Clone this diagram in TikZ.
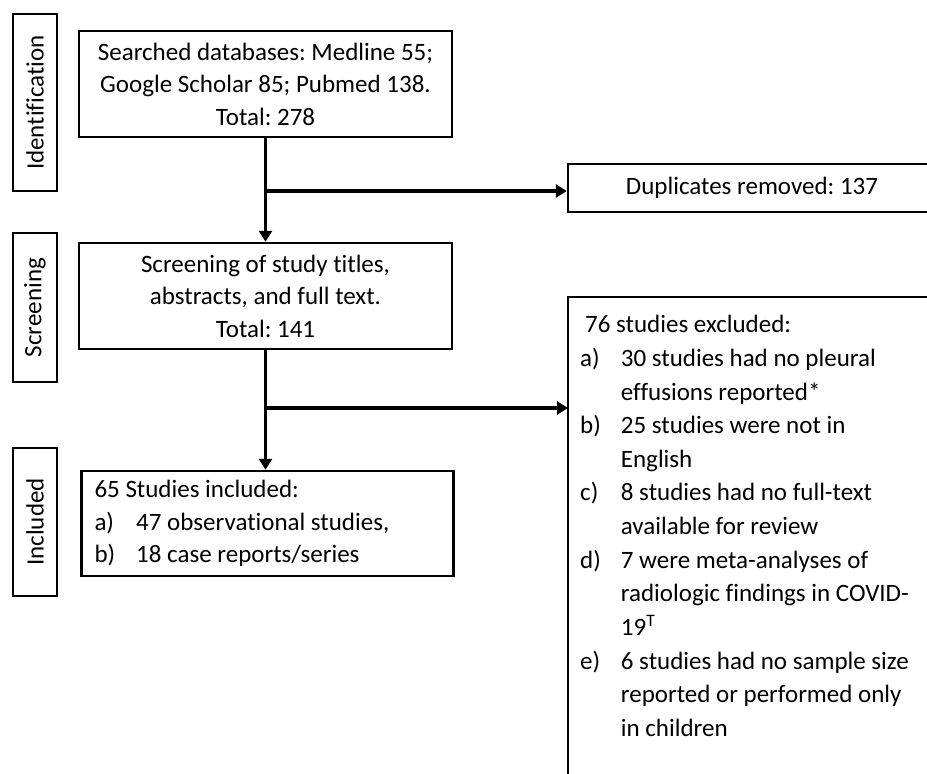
\documentclass[tikz,border=0pt]{standalone}
\usepackage{fontspec}
\setmainfont{Carlito}[Ligatures=NoCommon]
\usetikzlibrary{arrows.meta}

\tikzset{
  txt/.style={font=\fontsize{25}{32.5}\selectfont\frenchspacing},
  stage/.style={txt, draw, line width=2.5pt, rotate=90, inner sep=0pt, minimum height=44pt},
  box/.style={txt, draw, line width=2.5pt, inner sep=0pt, minimum width=373pt, minimum height=106pt},
  arr/.style={line width=3.5pt, -{Triangle[length=11pt,width=13pt]}}
}

\begin{document}
\begin{tikzpicture}[x=1pt,y=-1pt]
    \useasboundingbox (0,0) rectangle (927,774);

    \coordinate (S1) at (35,102.5);
    \coordinate (S2) at (35,307.5);
    \coordinate (S3) at (35,522);

    \coordinate (B1) at (266,191);
    \coordinate (B2) at (266,408);

%stages
    \node[stage, minimum width=177pt] (ident) at (S1) {Identification};
    \node[stage, minimum width=149pt] (screening) at (S2) {Screening};
    \node[stage, minimum width=148pt] (included) at (S3) {Included};

%boxes
    \node[box, align=center] (search) at (265.5,84)
        {Searched databases: Medline 55;\\ Google Scholar 85; Pubmed 138.\\ Total: 278};
    \node[box, align=center] (screen) at (265.5,296)
        {Screening of study titles,\\ abstracts, and full text.\\ Total: 141};
    \node[box, minimum width=372pt, minimum height=105pt, text width=346pt, align=left] (incl) at (267.5,523.5)
        {\spaceskip=0pt\xspaceskip=0pt%
        \begin{tabular}{@{}l@{\hspace{21pt}}l@{}}
          \multicolumn{2}{@{}l@{}}{65 Studies included:}\\
          a) & 47 observational studies,\\
          b) & 18 case reports/series
        \end{tabular}};
    \node[box, minimum width=368pt, minimum height=48pt] (dup) at (752,188)
        {Duplicates removed: 137};
    \node[txt, anchor=north west, inner sep=0pt] (excl) at (580,309)
        {\def\arraystretch{1.035}%
        \begin{tabular}{@{}l@{\hspace{20pt}}l@{}}
          \multicolumn{2}{@{\hspace{5pt}}l@{}}{76 studies excluded:}\\
          a) & 30 studies had no pleural\\
             & effusions reported*\\
          b) & 25 studies were not in\\
             & English\\
          c) & 8 studies had no full-text\\
             & available for review\\
          d) & 7 were meta-analyses of\\
             & radiologic findings in COVID-\\
             & 19\textsuperscript{T}\\
          e) & 6 studies had no sample size\\
             & reported or performed only\\
             & in children
        \end{tabular}};
    \coordinate (E1) at (568,297);
    \coordinate (E2) at (940,297);
    \coordinate (E3) at (568,790);
    \draw[line width=2.5pt] (E3) -- (E1) -- (E2);

%arrows
    \draw[arr] (search.south) -- (screen.north);
    \draw[arr] (screen.south) -- (incl.north -| screen.south);
    \draw[arr] (B1) -- (B1 -| dup.west);
    \draw[arr] (B2) -- (B2 -| E1);

\end{tikzpicture}
\end{document}
